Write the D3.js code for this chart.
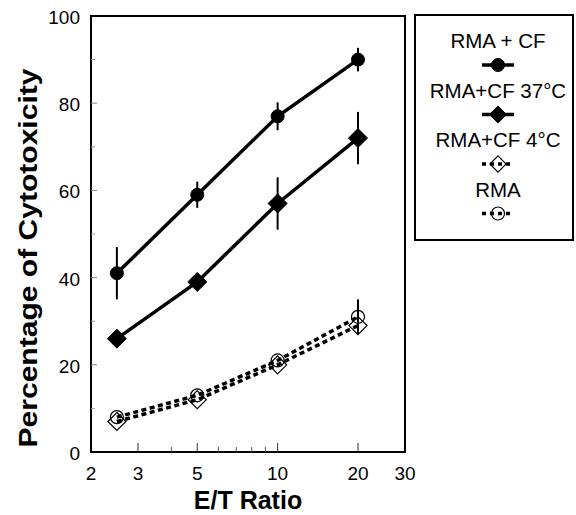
<!DOCTYPE html>
<html>
<head>
<meta charset="utf-8">
<script src="https://cdn.jsdelivr.net/npm/d3@7"></script>
<style>
body { margin: 0; background: #fff; }
svg { display: block; font-family: "Liberation Sans", Arial, Helvetica, sans-serif; }
</style>
</head>
<body>
<svg class="chart" width="576" height="515"></svg>
<script>
// E/T ratios
var ratios = [2.5, 5, 10, 20];

// series values (% cytotoxicity) and error half-widths
var rmaCf = [41, 59, 77, 90];
var rmaCfErr = [6, 3, 3.2, 2.7];
var rmaCf37 = [26, 39, 57, 72];
var rmaCf37Err = [0, 0, 6, 6];
var rmaCf4 = [7, 12, 20, 29];
var rmaCf4Err = [0, 0, 0, 0];
var rma = [8, 13, 21, 31];
var rmaErr = [0, 0, 0, 4];

var xTicks = [2, 3, 5, 10, 20, 30];
var xMinor = [4, 6, 7, 8, 9];
var yTicks = [0, 20, 40, 60, 80, 100];
var yMinor = [10, 30, 50, 70, 90];

var series = [
	{name: "RMA + CF", values: rmaCf, err: rmaCfErr, shape: "circle", filled: true, dashed: false},
	{name: "RMA+CF 37°C", values: rmaCf37, err: rmaCf37Err, shape: "diamond", filled: true, dashed: false},
	{name: "RMA+CF 4°C", values: rmaCf4, err: rmaCf4Err, shape: "diamond", filled: false, dashed: true},
	{name: "RMA", values: rma, err: rmaErr, shape: "circle", filled: false, dashed: true}
];

var margin = {top: 16, left: 91, right: 171, bottom: 63};
var width = 576 - margin.left - margin.right,
	height = 515 - margin.top - margin.bottom;

var svg = d3.select('.chart');
var chart = svg.append('g')
	.attr('transform', 'translate(' + margin.left + ',' + margin.top + ')');

var x = d3.scaleLog().domain([2, 30]).range([0, width]);
var y = d3.scaleLinear().domain([0, 100]).range([height, 0]);

// frame
chart.append('rect')
	.attr('width', width).attr('height', height)
	.attr('fill', 'none').attr('stroke', '#000').attr('stroke-width', 2);

// x axis ticks (inward)
chart.selectAll('.xtick')
	.data(xTicks.slice(1, -1))
	.enter().append('line')
	.attr('x1', function(d){ return x(d) }).attr('x2', function(d){ return x(d) })
	.attr('y1', height).attr('y2', height - 9)
	.attr('stroke', '#333').attr('stroke-width', 1);
chart.selectAll('.xminor')
	.data(xMinor)
	.enter().append('line')
	.attr('x1', function(d){ return x(d) }).attr('x2', function(d){ return x(d) })
	.attr('y1', height).attr('y2', height - 5)
	.attr('stroke', '#555').attr('stroke-width', 1);
chart.selectAll('.xlabel')
	.data(xTicks)
	.enter().append('text')
	.attr('x', function(d){ return x(d) })
	.attr('y', height + 28)
	.attr('text-anchor', 'middle')
	.attr('font-size', 19)
	.text(function(d){ return d });

// y axis ticks (inward)
chart.selectAll('.ytick')
	.data(yTicks.slice(1, -1))
	.enter().append('line')
	.attr('x1', 0).attr('x2', 6)
	.attr('y1', function(d){ return y(d) }).attr('y2', function(d){ return y(d) })
	.attr('stroke', '#888').attr('stroke-width', 1);
chart.selectAll('.yminor')
	.data(yMinor)
	.enter().append('line')
	.attr('x1', 0).attr('x2', 4)
	.attr('y1', function(d){ return y(d) }).attr('y2', function(d){ return y(d) })
	.attr('stroke', '#999').attr('stroke-width', 1);
chart.selectAll('.ylabel')
	.data(yTicks)
	.enter().append('text')
	.attr('x', -11)
	.attr('y', function(d){ return y(d) + 8 })
	.attr('text-anchor', 'end')
	.attr('font-size', 19)
	.text(function(d){ return d });

// axis titles
svg.append('text')
	.attr('x', 248).attr('y', 509)
	.attr('text-anchor', 'middle')
	.attr('font-size', 25).attr('font-weight', 'bold')
	.text('E/T Ratio');
svg.append('text')
	.attr('transform', 'translate(37,258) rotate(-90)')
	.attr('text-anchor', 'middle')
	.attr('font-size', 26).attr('font-weight', 'bold')
	.attr('textLength', 379).attr('lengthAdjust', 'spacingAndGlyphs')
	.text('Percentage of Cytotoxicity');

var line = d3.line()
	.x(function(d){ return x(d[0]) })
	.y(function(d){ return y(d[1]) });

function drawSymbol(g, s, cx, cy, scale){
	if(s.shape === 'circle'){
		g.append('circle')
			.attr('cx', cx).attr('cy', cy).attr('r', 6.5 * scale)
			.attr('fill', s.filled ? '#000' : '#fff')
			.attr('fill-opacity', s.filled ? 1 : 0)
			.attr('stroke', '#000').attr('stroke-width', s.filled ? 1 : 1.2);
	}else{
		var r = (s.filled ? 9.5 : 9) * scale;
		g.append('path')
			.attr('d', 'M' + cx + ',' + (cy - r) + 'L' + (cx + r) + ',' + cy + 'L' + cx + ',' + (cy + r) + 'L' + (cx - r) + ',' + cy + 'Z')
			.attr('fill', s.filled ? '#000' : '#fff')
			.attr('fill-opacity', s.filled ? 1 : 0)
			.attr('stroke', '#000').attr('stroke-width', s.filled ? 1 : 1.2);
	}
}

// lines, error bars, markers
series.forEach(function(s){
	var pts = ratios.map(function(r, i){ return [r, s.values[i], s.err[i]] });
	var g = chart.append('g');
	g.append('path')
		.datum(pts)
		.attr('d', line)
		.attr('fill', 'none')
		.attr('stroke', '#000')
		.attr('stroke-width', 3.5)
		.attr('stroke-dasharray', s.dashed ? '5,3.5' : null);
	g.selectAll('.err')
		.data(pts.filter(function(d){ return d[2] > 0 }))
		.enter().append('line')
		.attr('x1', function(d){ return x(d[0]) }).attr('x2', function(d){ return x(d[0]) })
		.attr('y1', function(d){ return y(d[1] - d[2]) }).attr('y2', function(d){ return y(d[1] + d[2]) })
		.attr('stroke', '#000').attr('stroke-width', 2);
	pts.forEach(function(d){ drawSymbol(g, s, x(d[0]), y(d[1]), 1) });
});

// legend
var lg = svg.append('g');
lg.append('rect')
	.attr('x', 415).attr('y', 15).attr('width', 158).attr('height', 225)
	.attr('fill', '#fff').attr('stroke', '#000').attr('stroke-width', 2);
var lx = 498;
series.forEach(function(s, i){
	var ty = 48 + i * 49.5;
	lg.append('text')
		.attr('x', lx).attr('y', ty)
		.attr('text-anchor', 'middle')
		.attr('font-size', 20.5)
		.text(s.name);
	var sy = ty + 17;
	lg.append('line')
		.attr('x1', lx - 16).attr('x2', lx + 16)
		.attr('y1', sy).attr('y2', sy)
		.attr('stroke', '#000').attr('stroke-width', 3.5)
		.attr('stroke-dasharray', s.dashed ? '4,4' : null);
	drawSymbol(lg, s, lx, sy, s.shape === 'diamond' ? 0.9 : 1);
});
</script>
</body>
</html>
